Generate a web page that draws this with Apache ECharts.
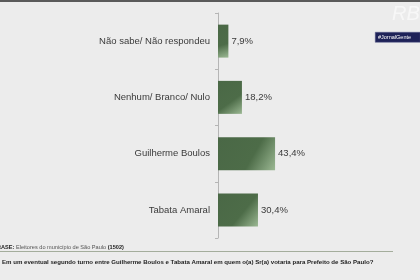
<!DOCTYPE html>
<html>
<head>
<meta charset="utf-8">
<script src="https://cdn.jsdelivr.net/npm/echarts@6/dist/echarts.min.js"></script>
<style>
  html, body { margin: 0; padding: 0; background: #ececec; }
  #chart { width: 420px; height: 280px; }
</style>
</head>
<body>
<div id="chart"></div>
<script>
// categorias e percentuais
var categories = ['Não sabe/ Não respondeu', 'Nenhum/ Branco/ Nulo', 'Guilherme Boulos', 'Tabata Amaral'];
var values = [7.9, 18.2, 43.4, 30.4];
var baseText = 'Eleitores do município de São Paulo';
var baseCount = '(1502)';
var question = 'Em um eventual segundo turno entre Guilherme Boulos e Tabata Amaral em quem o(a) Sr(a) votaria para Prefeito de São Paulo?';

var chart = echarts.init(document.getElementById('chart'));

var barColor = new echarts.graphic.LinearGradient(0, 0, 1, 1, [
    {offset: 0, color: '#4a6846'},
    {offset: 0.6, color: '#4d6c48'},
    {offset: 1, color: '#9bb893'}
]);

chart.setOption({
    backgroundColor: '#ececec',
    animation: false,
    grid: {left: 218, top: 13, width: 131.5, height: 225},
    xAxis: {
        type: 'value', min: 0, max: 100, show: false
    },
    yAxis: {
        type: 'category',
        data: categories,
        inverse: true,
        axisLine: {lineStyle: {color: '#b5b5b5', width: 1}},
        axisTick: {show: true, length: 3, lineStyle: {color: '#b5b5b5'}},
        axisLabel: {
            margin: 8,
            color: '#3a3a3a',
            fontFamily: 'Liberation Sans',
            fontSize: 9.5
        }
    },
    series: [{
        type: 'bar',
        data: values,
        barWidth: 33,
        itemStyle: {color: barColor},
        label: {
            show: true,
            position: 'right',
            distance: 3,
            color: '#3a3a3a',
            fontFamily: 'Liberation Sans',
            fontSize: 9.5,
            formatter: function (p) { return String(p.value.toFixed(1)).replace('.', ',') + '%'; }
        }
    }],
    graphic: [
        // faixa escura no topo
        {type: 'rect', left: 0, top: 0, shape: {width: 420, height: 2}, style: {fill: '#5a5a5a'}},
        // logo
        {type: 'text', left: 392, top: 4, style: {
            text: 'RB', fill: 'rgba(255,255,255,0.6)', fontSize: 20, fontStyle: 'italic',
            fontFamily: 'Liberation Sans'
        }},
        {type: 'rect', left: 375, top: 32, shape: {width: 45, height: 10}, style: {fill: '#1e2258', stroke: '#5a5f8a', lineWidth: 0.5}},
        {type: 'text', left: 378, top: 34, style: {
            text: '#JornalGente', fill: '#ffffff', fontSize: 5.5, fontFamily: 'Liberation Sans'
        }},
        // rodapé
        {type: 'text', left: -3, top: 244, style: {
            text: '{b|BASE:} ' + baseText + ' {b|' + baseCount + '}',
            fill: '#555', fontSize: 5.6, fontFamily: 'Liberation Sans',
            rich: {b: {fontWeight: 'bold', fill: '#222', fontSize: 5.6, fontFamily: 'Liberation Sans'}}
        }},
        {type: 'rect', left: 0, top: 251, shape: {width: 393, height: 1}, style: {fill: '#a4ad9c'}},
        {type: 'text', left: 2, top: 259, style: {
            text: question, fill: '#222', fontSize: 6.1, fontWeight: 'bold',
            fontFamily: 'Liberation Sans'
        }}
    ]
});
</script>
</body>
</html>
